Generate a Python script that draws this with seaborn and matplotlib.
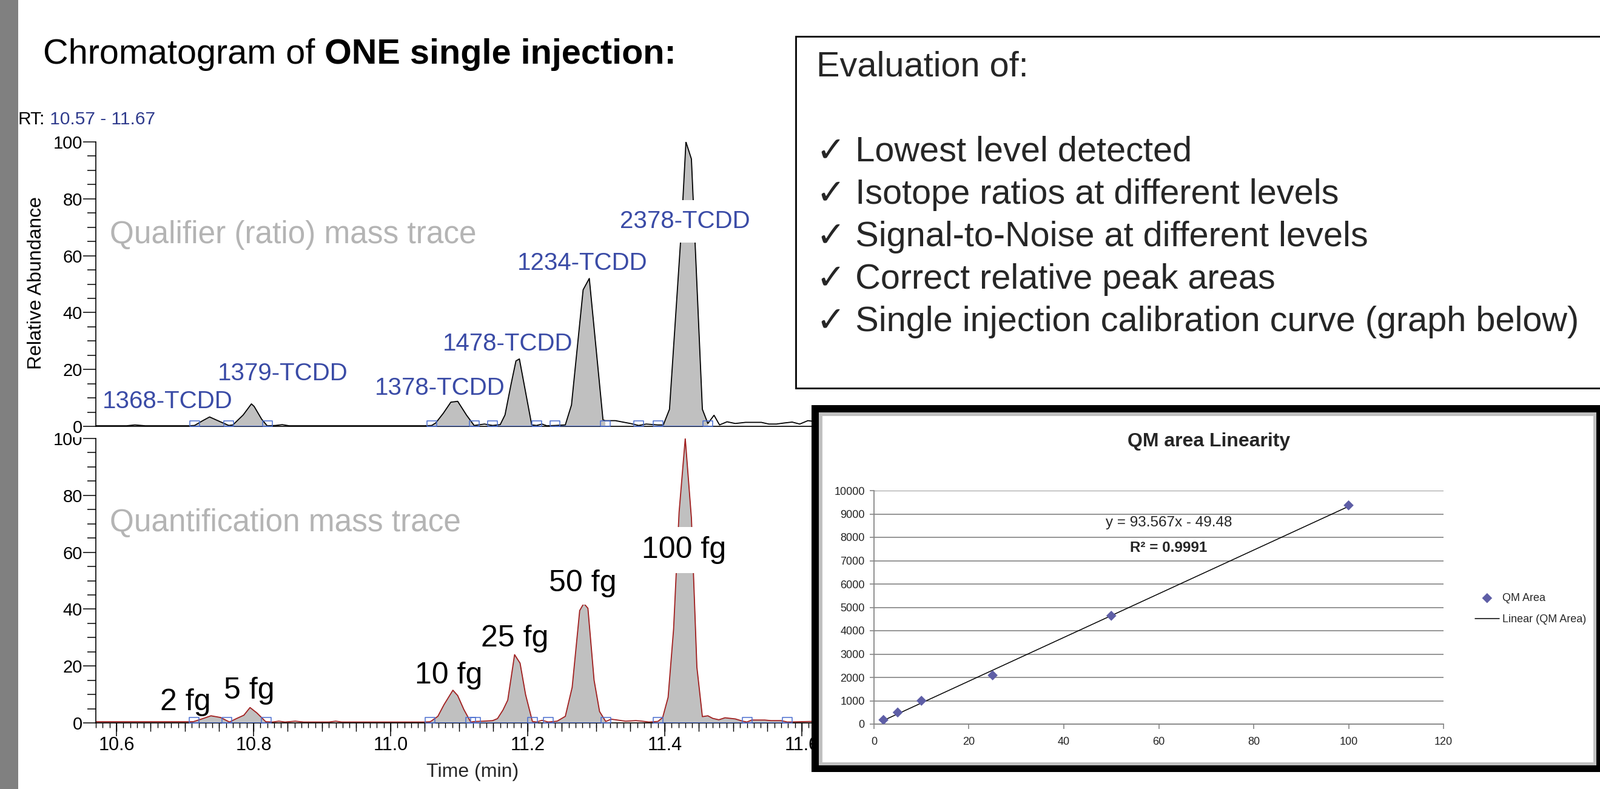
import numpy as np
import matplotlib
matplotlib.use("Agg")
import matplotlib.pyplot as plt
import seaborn as sns
from matplotlib.patches import Rectangle
from matplotlib.ticker import MultipleLocator, NullFormatter, FormatStrFormatter

# ---------------------------------------------------------------- data
time_min, time_max = 10.57, 11.67
rt_range_text = "10.57 - 11.67"

# qualifier (ratio) mass trace: retention time (min) / relative abundance
qual_time = [10.570, 10.615, 10.627, 10.642, 10.706, 10.714, 10.726, 10.736, 10.748, 10.764,
             10.770, 10.785, 10.797, 10.801, 10.812, 10.820, 10.832, 10.842, 10.852, 10.950,
             11.050, 11.060, 11.066, 11.077, 11.088, 11.098, 11.111, 11.122, 11.137, 11.149,
             11.160, 11.167, 11.176, 11.183, 11.188, 11.206, 11.213, 11.221, 11.228, 11.240,
             11.255, 11.264, 11.281, 11.290, 11.310, 11.313, 11.328, 11.339, 11.350, 11.362,
             11.373, 11.390, 11.398, 11.407, 11.424, 11.431, 11.439, 11.455, 11.463, 11.472,
             11.480, 11.491, 11.503, 11.518, 11.541, 11.552, 11.563, 11.575, 11.586, 11.597,
             11.609, 11.640, 11.670]
qual_abund = [0.2, 0.2, 0.5, 0.2, 0.2, 0.3, 2.0, 3.3, 2.0, 0.3,
              0.5, 4.0, 7.9, 7.0, 2.5, 0.2, 0.3, 0.6, 0.2, 0.2,
              0.2, 0.3, 1.2, 4.6, 8.5, 8.8, 3.9, 0.3, 0.8, 0.3,
              0.6, 4.0, 15.0, 23.0, 23.7, 0.5, 0.3, 0.8, 0.2, 0.3,
              0.5, 7.5, 48.0, 52.0, 2.3, 2.0, 2.0, 1.5, 1.0, 0.3,
              0.8, 0.5, 0.5, 6.0, 68.0, 100.0, 94.0, 6.0, 1.0, 3.9,
              0.5, 1.6, 1.0, 1.4, 1.4, 0.8, 0.8, 1.2, 1.5, 0.8,
              2.0, 1.0, 0.8]
qual_peak_start = [10.714, 10.764, 11.060, 11.149, 11.240, 11.390]
qual_peak_end = [10.764, 10.820, 11.122, 11.213, 11.313, 11.463]
qual_marker_time = [10.714, 10.764, 10.820, 11.060, 11.122, 11.149, 11.213,
                    11.240, 11.313, 11.362, 11.390, 11.463]
qual_peak_names = ["1368-TCDD", "1379-TCDD", "1378-TCDD", "1478-TCDD", "1234-TCDD", "2378-TCDD"]

# quantification mass trace
quant_time = [10.570, 10.600, 10.650, 10.700, 10.712, 10.726, 10.738, 10.752, 10.765, 10.775,
              10.786, 10.795, 10.805, 10.818, 10.828, 10.837, 10.846, 10.861, 10.873, 10.910,
              10.920, 10.929, 11.000, 11.050, 11.058, 11.069, 11.078, 11.091, 11.098, 11.107,
              11.117, 11.124, 11.135, 11.149, 11.156, 11.164, 11.171, 11.176, 11.181, 11.189,
              11.197, 11.207, 11.213, 11.221, 11.230, 11.243, 11.255, 11.265, 11.276, 11.282,
              11.288, 11.297, 11.305, 11.314, 11.322, 11.331, 11.343, 11.358, 11.367, 11.377,
              11.390, 11.397, 11.405, 11.413, 11.421, 11.430, 11.439, 11.447, 11.455, 11.463,
              11.470, 11.479, 11.488, 11.503, 11.514, 11.520, 11.527, 11.546, 11.555, 11.570,
              11.579, 11.613, 11.640, 11.670]
quant_abund = [0.4, 0.4, 0.4, 0.4, 0.4, 1.5, 2.5, 1.9, 0.3, 1.5,
               2.7, 5.4, 3.5, 0.4, 0.3, 0.6, 0.3, 0.6, 0.3, 0.3,
               0.6, 0.3, 0.3, 0.3, 0.4, 2.3, 6.4, 11.5, 9.6, 4.7,
               0.3, 0.5, 0.6, 0.8, 1.5, 4.5, 8.0, 16.0, 24.0, 21.0,
               10.0, 0.5, 0.3, 0.9, 0.3, 0.6, 2.3, 12.5, 39.5, 42.0,
               40.3, 15.0, 4.0, 0.5, 1.3, 1.0, 0.6, 0.8, 0.6, 0.3,
               0.5, 1.85, 9.0, 33.0, 74.0, 100.0, 72.0, 19.6, 2.2, 2.5,
               1.6, 1.1, 1.8, 1.4, 0.6, 0.3, 1.0, 1.0, 0.8, 0.8,
               0.3, 0.5, 0.4, 0.4]
quant_peak_start = [10.712, 10.765, 11.058, 11.124, 11.230, 11.390, 11.520]
quant_peak_end = [10.765, 10.818, 11.117, 11.207, 11.314, 11.520, 11.579]
quant_marker_time = [10.713, 10.761, 10.819, 11.058, 11.117, 11.124, 11.207,
                     11.230, 11.314, 11.390, 11.520, 11.579]
quant_peak_names = ["2 fg", "5 fg", "10 fg", "25 fg", "50 fg", "100 fg"]

# single-injection calibration
cal_conc = [2, 5, 10, 25, 50, 100]
cal_area = [180, 500, 1000, 2090, 4640, 9370]
cal_xticks = [0, 20, 40, 60, 80, 100, 120]
cal_yticks = [0, 1000, 2000, 3000, 4000, 5000, 6000, 7000, 8000, 9000, 10000]
cal_equation = "y = 93.567x - 49.48"
cal_r2 = "R\u00b2 = 0.9991"

evaluation_title = "Evaluation of:"
evaluation_items = ["Lowest level detected",
                    "Isotope ratios at different levels",
                    "Signal-to-Noise at different levels",
                    "Correct relative peak areas",
                    "Single injection calibration curve (graph below)"]

# ---------------------------------------------------------------- layout / style
W, H = 2638, 1301
qual_label_pos = [(10.675, 6.5), (10.843, 16.2), (11.072, 11.1), (11.171, 26.7), (11.280, 55.0), (11.430, 69.8)]
qual_label_box = [None, None, None, None, None, 0.4]
quant_label_pos = [(10.701, 4.5), (10.794, 8.5), (11.085, 13.9), (11.181, 26.9), (11.280, 46.3), (11.428, 58.0)]
quant_label_box = [None, None, None, None, 0.25, 0.3]

FILL = "#c0c0c0"
BLUE_LINE = "#4a6ed0"
LABEL_BLUE = "#3a4ba6"
RT_BLUE = "#2e3a8c"
TRACE_GRAY = "#b4b4b4"
RED = "#a01e1e"

sns.set_theme(style="white")
plt.rcParams["font.family"] = ["Liberation Sans", "DejaVu Sans"]
plt.rcParams["axes.unicode_minus"] = False

fig = plt.figure(figsize=(W / 100, H / 100), dpi=100)
fig.patch.set_facecolor("white")


def fx(px):
    return px / W


def fy(py):
    return 1 - py / H


def fbox(x0, y0, x1, y1):
    return [fx(x0), fy(y1), fx(x1) - fx(x0), fy(y0) - fy(y1)]


def rect(x0, y0, x1, y1, **kw):
    r = Rectangle((fx(x0), fy(y1)), fx(x1) - fx(x0), fy(y0) - fy(y1),
                  transform=fig.transFigure, **kw)
    fig.add_artist(r)
    return r


# left grey slide bar
rect(0, -5, 30, H + 5, facecolor="#808080", edgecolor="none", zorder=1)

marker_verts = [(-1, 0), (1, 0), (1, 1.2), (-1, 1.2), (-1, 0)]


def chromatogram(ax, t, a, starts, ends, markers, color):
    t = np.asarray(t)
    a = np.asarray(a)
    for s, e in zip(starts, ends):
        m = (t >= s - 1e-6) & (t <= e + 1e-6)
        ax.fill_between(t[m], a[m], 0, color=FILL, lw=0, zorder=1)
    sns.lineplot(x=t, y=a, ax=ax, color=color, linewidth=1.3, sort=False,
                 estimator=None, zorder=2)
    ax.hlines(np.zeros(len(starts)), starts, ends, color=BLUE_LINE, lw=1.4, zorder=3)
    ax.plot(markers, np.zeros(len(markers)), ls="none", marker=marker_verts, ms=13,
            mfc="none", mec=BLUE_LINE, mew=1.1, zorder=4)
    ax.set_xlim(time_min, time_max)
    ax.set_ylim(0, 100)
    ax.set_facecolor("none")
    for sp in ("top", "right"):
        ax.spines[sp].set_visible(False)
    for sp in ("left", "bottom"):
        ax.spines[sp].set_color("black")
        ax.spines[sp].set_linewidth(1.2)
    ax.yaxis.set_major_locator(MultipleLocator(20))
    ax.yaxis.set_minor_locator(MultipleLocator(5))
    ax.tick_params(axis="y", which="major", left=True, length=15, width=1.1,
                   labelsize=21, pad=1, color="black", labelcolor="black")
    ax.tick_params(axis="y", which="minor", left=True, length=10, width=1.1, color="black")
    ax.set_xlabel("")
    ax.set_ylabel("")


ax_n = fig.add_axes(fbox(158, 723, 1401, 1192))
ax_n.set_zorder(0)
chromatogram(ax_n, quant_time, quant_abund, quant_peak_start, quant_peak_end,
             quant_marker_time, RED)
ax_n.xaxis.set_major_locator(MultipleLocator(0.2))
ax_n.xaxis.set_major_formatter(FormatStrFormatter("%.1f"))
ax_n.xaxis.set_minor_locator(MultipleLocator(0.01))
ax_n.tick_params(axis="x", which="major", bottom=True, length=15.5, width=1.1,
                 labelsize=22, pad=0.5, color="black", labelcolor="black")
ax_n.tick_params(axis="x", which="minor", bottom=True, length=5.5, width=1.0, color="black")
sec = ax_n.secondary_xaxis("bottom")
sec.xaxis.set_major_locator(MultipleLocator(0.05))
sec.xaxis.set_major_formatter(NullFormatter())
sec.tick_params(axis="x", length=10.2, width=1.0, color="black")
sec.spines["bottom"].set_visible(False)

ax_q = fig.add_axes(fbox(158, 234, 1401, 703))
ax_q.set_zorder(0.5)
chromatogram(ax_q, qual_time, qual_abund, qual_peak_start, qual_peak_end,
             qual_marker_time, "black")
ax_q.tick_params(axis="x", which="both", bottom=False, labelbottom=False)

# peak labels
for name, (x, y), pad in zip(qual_peak_names, qual_label_pos, qual_label_box):
    bb = dict(boxstyle=f"square,pad={pad}", fc="white", ec="none") if pad else None
    ax_q.text(x, y, name, ha="center", va="baseline", color=LABEL_BLUE,
              fontsize=29, zorder=6, bbox=bb)
for name, (x, y), pad in zip(quant_peak_names, quant_label_pos, quant_label_box):
    bb = dict(boxstyle=f"square,pad={pad}", fc="white", ec="none") if pad else None
    ax_n.text(x, y, name, ha="center", va="baseline", color="black",
              fontsize=36, zorder=6, bbox=bb)

ax_q.text(10.590, 64.3, "Qualifier (ratio) mass trace", ha="left", va="baseline",
          color=TRACE_GRAY, fontsize=37)
ax_n.text(10.590, 67.4, "Quantification mass trace", ha="left", va="baseline",
          color=TRACE_GRAY, fontsize=37)

fig.text(fx(60), fy(467), "Relative Abundance", rotation=90, ha="center", va="center",
         fontsize=23, color="black")
fig.text(fx(779), fy(1281), "Time (min)", ha="center", va="baseline", fontsize=23)

renderer = fig.canvas.get_renderer()


def two_part(x, y, s1, s2, kw1, kw2):
    t1 = fig.text(x, y, s1, ha="left", va="baseline", **kw1)
    bb = t1.get_window_extent(renderer=renderer)
    fig.text(bb.x1 / fig.bbox.width, y, s2, ha="left", va="baseline", **kw2)


two_part(fx(71), fy(105), "Chromatogram of", " ONE single injection:",
         dict(fontsize=41.5, color="black"), dict(fontsize=41.5, color="black", fontweight="bold"))
two_part(fx(30), fy(205), "RT:", " " + rt_range_text,
         dict(fontsize=21.5, color="black"), dict(fontsize=21.5, color=RT_BLUE))

# evaluation text box
rect(1312, 60, 2700, 640, facecolor="white", edgecolor="black", lw=2.0, zorder=2)
fig.text(fx(1346), fy(126), evaluation_title, ha="left", va="baseline", fontsize=41.5, zorder=3)
for k, item in enumerate(evaluation_items):
    fig.text(fx(1346), fy(266 + 70 * k), "\u2713 " + item, ha="left", va="baseline",
             fontsize=41.5, zorder=3)

# calibration inset frame
rect(1338, 668, 2638, 1273, facecolor="black", edgecolor="none", zorder=2)
rect(1350, 680, 2632, 1262, facecolor="#c0c0c0", edgecolor="none", zorder=2.1)
rect(1356, 686, 2627, 1257, facecolor="white", edgecolor="none", zorder=2.2)

ax_c = fig.add_axes(fbox(1441, 809, 2380, 1194))
ax_c.set_zorder(5)
ax_c.set_facecolor("none")
sns.scatterplot(x=cal_conc, y=cal_area, ax=ax_c, marker="D", s=72, color="#5e5ea6",
                edgecolor="none", linewidth=0, label="QM Area", zorder=4)
sns.regplot(x=cal_conc, y=cal_area, ax=ax_c, scatter=False, ci=None, color="black",
            line_kws=dict(lw=1.1, zorder=3), label="Linear (QM Area)")
ax_c.set_xlim(0, 120)
ax_c.set_ylim(0, 10000)
ax_c.set_xticks(cal_xticks)
ax_c.set_yticks(cal_yticks)
ax_c.set_xlabel("")
ax_c.set_ylabel("")
ax_c.yaxis.grid(True, color="#8c8c8c", lw=1.3)
ax_c.xaxis.grid(False)
ax_c.set_axisbelow(True)
for sp in ("top", "right"):
    ax_c.spines[sp].set_visible(False)
for sp in ("left", "bottom"):
    ax_c.spines[sp].set_color("#868686")
    ax_c.spines[sp].set_linewidth(1.3)
ax_c.tick_params(axis="x", bottom=True, length=6, width=1.2, color="#868686",
                 labelsize=13, pad=9, labelcolor="#222222")
ax_c.tick_params(axis="y", left=True, length=5, width=1.2, color="#868686",
                 labelsize=13, pad=6, labelcolor="#222222")
handles, labels = ax_c.get_legend_handles_labels()
order = [labels.index("QM Area"), labels.index("Linear (QM Area)")]
ax_c.legend([handles[i] for i in order], [labels[i] for i in order],
            loc="center left", bbox_to_anchor=(fx(2432), fy(1004)),
            bbox_transform=fig.transFigure, frameon=False, fontsize=13,
            handlelength=2.2, handletextpad=0.3, labelspacing=1.0,
            borderpad=0, borderaxespad=0)

fig.text(fx(1993), fy(736), "QM area Linearity", ha="center", va="baseline",
         fontsize=23, fontweight="bold", zorder=6)
fig.text(fx(1927), fy(868), cal_equation, ha="center", va="baseline", fontsize=17.5, zorder=6)
fig.text(fx(1927), fy(910), cal_r2, ha="center", va="baseline", fontsize=17.5,
         fontweight="bold", zorder=6)

# the upper trace's tick labels sit on white, hiding the top of the lower "100" as in the slide
fig.canvas.draw()
for tick in ax_q.yaxis.get_major_ticks():
    tick.label1.set_bbox(dict(boxstyle="square,pad=0.05", fc="white", ec="none"))

fig.savefig("out.png", dpi=100, facecolor="white")
